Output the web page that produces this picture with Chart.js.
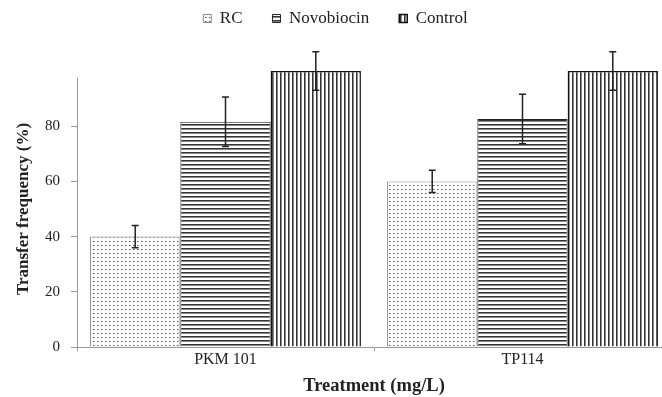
<!DOCTYPE html>
<html>
<head>
<meta charset="utf-8">
<script src="https://cdn.jsdelivr.net/npm/chart.js@4"></script>
<style>
  html, body { margin: 0; padding: 0; background: #fff; overflow: hidden; }
  #wrap { width: 672px; height: 397px; position: relative; }
</style>
</head>
<body>
<div id="wrap"><canvas id="chart"></canvas></div>
<script>
// Chart data
const categories = ['PKM 101', 'TP114'];
const seriesNames = ['RC', 'Novobiocin', 'Control'];
const rcValues = [40, 60];
const novobiocinValues = [81.6, 82.6];
const controlValues = [100, 100];
const rcErrors = [4, 4];
const novobiocinErrors = [9, 9];
const controlErrors = [7, 7];
const yTicks = [0, 20, 40, 60, 80];

const serif = '"Liberation Serif", "Times New Roman", serif';
const TOP_PAD = -20;
const PLOT_TOP = 71;

// Build fill patterns
function makePattern(kind) {
  const c = document.createElement('canvas');
  c.width = 4; c.height = 4;
  const g = c.getContext('2d');
  g.fillStyle = '#fff';
  g.fillRect(0, 0, 4, 4);
  if (kind === 'dots') {
    g.fillStyle = '#555';
    g.fillRect(1, 1, 1, 1);
    g.fillStyle = '#aaa';
    g.fillRect(2, 1, 1, 1);
  } else if (kind === 'hlines') {
    g.fillStyle = '#333';
    g.fillRect(0, 0, 4, 1);
    g.fillStyle = '#888';
    g.fillRect(0, 1, 4, 1);
  } else {
    g.fillStyle = '#333';
    g.fillRect(0, 0, 1, 4);
    g.fillStyle = '#888';
    g.fillRect(1, 0, 1, 4);
  }
  return g.createPattern(c, 'repeat');
}

const errorSets = [rcErrors, novobiocinErrors, controlErrors];

// Legend takes up the space above the plot
const legendSpace = {
  id: 'legendSpace',
  beforeLayout(chart) {
    const lg = chart.legend;
    if (lg && !lg._patched) {
      const fit = lg.fit.bind(lg);
      lg.fit = function () {
        fit();
        this.height = PLOT_TOP - TOP_PAD;
      };
      lg._patched = true;
    }
  }
};

// Draw error bars on top of the bars
const errorBars = {
  id: 'errorBars',
  afterDatasetsDraw(chart) {
    const ctx = chart.ctx;
    const y = chart.scales.y;
    ctx.save();
    ctx.strokeStyle = '#222';
    ctx.lineWidth = 1.5;
    chart.data.datasets.forEach((ds, i) => {
      const meta = chart.getDatasetMeta(i);
      meta.data.forEach((bar, j) => {
        const v = ds.data[j];
        const e = errorSets[i][j];
        const top = y.getPixelForValue(v + e);
        const bot = y.getPixelForValue(v - e);
        ctx.beginPath();
        ctx.moveTo(bar.x, top); ctx.lineTo(bar.x, bot);
        ctx.moveTo(bar.x - 3.5, top); ctx.lineTo(bar.x + 3.5, top);
        ctx.moveTo(bar.x - 3.5, bot); ctx.lineTo(bar.x + 3.5, bot);
        ctx.stroke();
      });
    });
    // y axis line stops just short of the top
    ctx.strokeStyle = '#999';
    ctx.lineWidth = 1;
    ctx.beginPath();
    ctx.moveTo(y.right + 0.5, y.getPixelForValue(0));
    ctx.lineTo(y.right + 0.5, y.getPixelForValue(97.5));
    ctx.stroke();
    ctx.restore();
  }
};

new Chart(document.getElementById('chart'), {
  type: 'bar',
  data: {
    labels: categories,
    datasets: [
      { label: seriesNames[0], data: rcValues, backgroundColor: makePattern('dots'), borderColor: '#888', borderWidth: 1 },
      { label: seriesNames[1], data: novobiocinValues, backgroundColor: makePattern('hlines'), borderColor: '#222', borderWidth: 1 },
      { label: seriesNames[2], data: controlValues, backgroundColor: makePattern('vlines'), borderColor: '#111', borderWidth: 1.5 }
    ]
  },
  options: {
    responsive: true,
    maintainAspectRatio: false,
    animation: false,
    layout: { padding: { top: TOP_PAD, right: 1, left: 0, bottom: 0 } },
    datasets: { bar: { categoryPercentage: 0.912, barPercentage: 1 } },
    scales: {
      x: {
        grid: { drawOnChartArea: false, color: '#999', tickLength: 4, offset: true },
        border: { color: '#999' },
        ticks: { color: '#222', font: { family: serif, size: 16 }, padding: -1 },
        title: { display: true, text: 'Treatment (mg/L)', color: '#222', font: { family: serif, size: 18.5, weight: 'bold' }, padding: { top: 4, bottom: 0 } },
        afterFit(s) { s.height = 50; }
      },
      y: {
        min: 0,
        max: 100,
        afterBuildTicks(s) { s.ticks = yTicks.concat([100]).map(v => ({ value: v })); },
        grid: {
          drawOnChartArea: false,
          tickLength: 6,
          color: (c) => (c.tick && c.tick.value === 100 ? 'rgba(0,0,0,0)' : '#999')
        },
        border: { display: false },
        ticks: {
          color: '#222',
          font: { family: serif, size: 15 },
          padding: 11,
          callback: (v) => (yTicks.includes(v) ? v : '')
        },
        title: { display: true, text: 'Transfer frequency (%)', color: '#222', font: { family: serif, size: 17, weight: 'bold' }, padding: { top: 13, bottom: 0 } },
        afterFit(s) { s.width = 77; }
      }
    },
    plugins: {
      tooltip: { enabled: false },
      legend: {
        position: 'top',
        labels: {
          color: '#222',
          font: { family: serif, size: 17 },
          boxWidth: 8,
          boxHeight: 8,
          padding: 30
        }
      }
    }
  },
  plugins: [legendSpace, errorBars]
});
</script>
</body>
</html>
